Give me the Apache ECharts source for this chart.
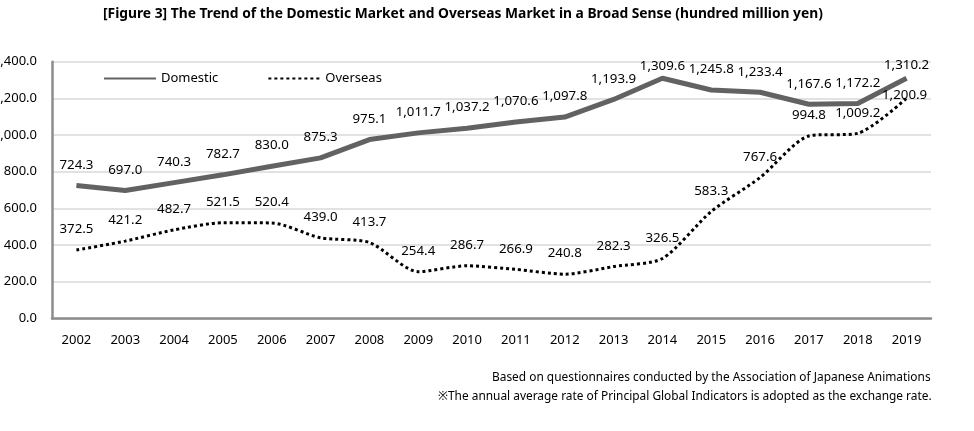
<!DOCTYPE html>
<html>
<head>
<meta charset="utf-8">
<script src="https://cdn.jsdelivr.net/npm/echarts@6/dist/echarts.min.js"></script>
<style>
html,body{margin:0;padding:0;background:#fff;}
#c{width:974px;height:431px;}
</style>
</head>
<body>
<div id="c"></div>
<script>
const years = ['2002','2003','2004','2005','2006','2007','2008','2009','2010','2011','2012','2013','2014','2015','2016','2017','2018','2019'];
const domestic = [724.3, 697.0, 740.3, 782.7, 830.0, 875.3, 975.1, 1011.7, 1037.2, 1070.6, 1097.8, 1193.9, 1309.6, 1245.8, 1233.4, 1167.6, 1172.2, 1310.2];
const overseas = [372.5, 421.2, 482.7, 521.5, 520.4, 439.0, 413.7, 254.4, 286.7, 266.9, 240.8, 282.3, 326.5, 583.3, 767.6, 994.8, 1009.2, 1200.9];
const seriesNames = ['Domestic', 'Overseas'];
const titleText = '[Figure 3] The Trend of the Domestic Market and Overseas Market in a Broad Sense (hundred million yen)';
const noteLines = ['Based on questionnaires conducted by the Association of Japanese Animations',
  '※The annual average rate of Principal Global Indicators is adopted as the exchange rate.'];

// label placement tweaks (style, not data)
const domLabelShift = {12: [0, 8], 17: [0, 8]};
const ovsLabelShift = {17: [-2, 18]};

function fmt(v){ return v.toLocaleString('en-US',{minimumFractionDigits:1, maximumFractionDigits:1}); }
function build(vals, shifts){
  return vals.map((v,i)=>{
    const s = shifts[i];
    if (!s) return v;
    return {value: v, label: {offset: s}};
  });
}
const FONT = 'Noto Sans';
const chart = echarts.init(document.getElementById('c'));
chart.setOption({
  animation: false,
  backgroundColor: '#fff',
  title: {
    text: titleText, left: 103, top: 7, padding: 0,
    textStyle: {fontFamily: FONT, fontSize: 13.8, fontWeight: 'bold', color: '#000'}
  },
  graphic: [
    {type:'text', left: 492, top: 372, style:{text: noteLines[0], font: '11.9px "Noto Sans"', fill:'#000'}},
    {type:'text', left: 438, top: 391, style:{text: noteLines[1], font: '11.9px "Noto Sans"', fill:'#000'}}
  ],
  legend: {
    left: 103, top: 72, padding: 0, itemWidth: 52, itemHeight: 8, itemGap: 49,
    textStyle: {fontFamily: FONT, fontSize: 13, color: '#000'},
    itemStyle: {opacity: 0},
    data: seriesNames
  },
  grid: {left: 52, right: 43, top: 61.7, bottom: 112.7, containLabel: false, outerBoundsMode: 'none'},
  xAxis: {
    type: 'category', data: years, boundaryGap: true,
    axisLine: {lineStyle: {color: '#8c8c8c', width: 2.5}},
    axisTick: {inside: true, length: 6, lineStyle: {color: '#8c8c8c', width: 2}},
    axisLabel: {fontFamily: FONT, fontSize: 13, color: '#000', margin: 15}
  },
  yAxis: {
    type: 'value', min: 0, max: 1400, interval: 200,
    axisLine: {show: true, lineStyle: {color: '#8c8c8c', width: 2.5}},
    axisTick: {show: false},
    splitLine: {lineStyle: {color: '#d9d9d9', width: 1.5}},
    axisLabel: {fontFamily: FONT, fontSize: 13, color: '#000', margin: 15,
      formatter: v => fmt(v)}
  },
  series: [
    {
      name: seriesNames[0], type: 'line', data: build(domestic, domLabelShift),
      symbol: 'circle', symbolSize: 0, showSymbol: true, smooth: false,
      lineStyle: {color: '#626262', width: 5},
      itemStyle: {color: '#626262'},
      label: {show: true, position: 'top', distance: 14, fontFamily: FONT, fontSize: 13.3, color: '#000',
        formatter: p => fmt(p.value)}
    },
    {
      name: seriesNames[1], type: 'line', data: build(overseas, ovsLabelShift),
      symbol: 'circle', symbolSize: 0, showSymbol: true, smooth: 0.25,
      lineStyle: {color: '#000', width: 3, type: [3, 3], cap: 'butt'},
      itemStyle: {color: '#000'},
      label: {show: true, position: 'top', distance: 14, fontFamily: FONT, fontSize: 13.3, color: '#000',
        formatter: p => fmt(p.value)}
    }
  ]
});
</script>
</body>
</html>
